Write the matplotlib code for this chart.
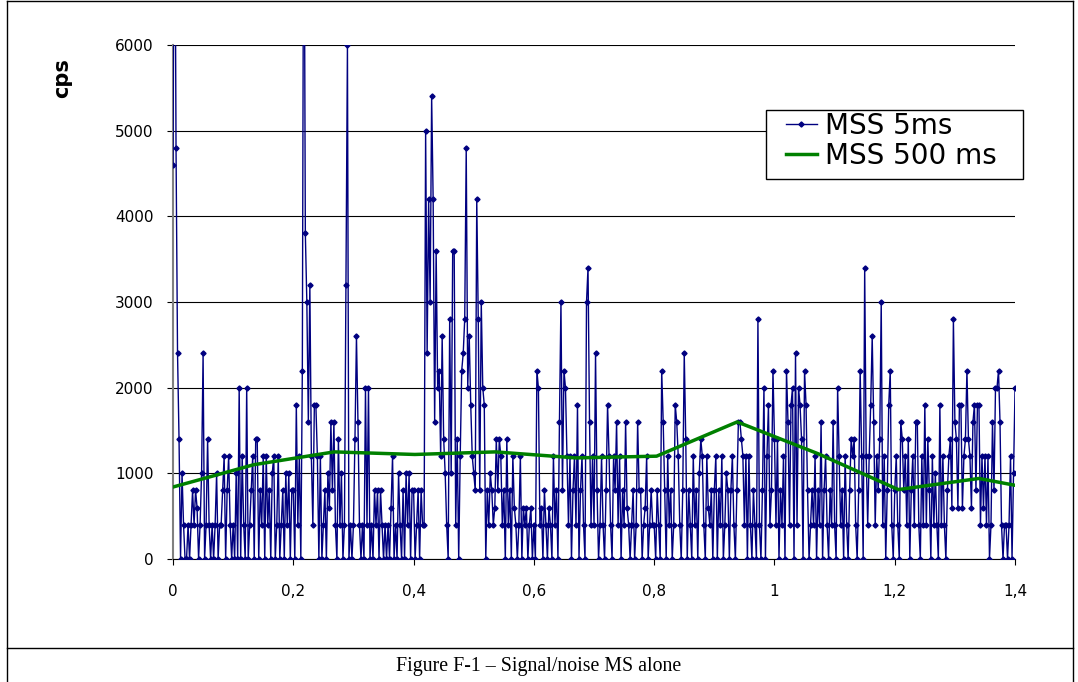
import numpy as np
import matplotlib.pyplot as plt
from matplotlib.lines import Line2D
from matplotlib.patches import Rectangle
from matplotlib.ticker import FuncFormatter

# MSS 5 ms signal (cps), one list per 0.1 of the x axis, sample step 0.0025
sample_step = 0.0025
seg0 = [4600, 9000, 4800, 2400, 1400, 0, 1000, 400, 0, 0,
        400, 0, 400, 800, 400, 800, 600, 0, 400, 1000,
        2400, 0, 400, 1400, 400, 0, 400, 0, 400, 1000,
        0, 400, 400, 800, 1200, 0, 800, 1200, 400, 0]
seg1 = [400, 0, 1000, 0, 2000, 0, 1200, 400, 0, 2000,
        0, 400, 800, 1200, 0, 1400, 1400, 0, 800, 400,
        1200, 0, 1200, 400, 800, 0, 1000, 1200, 0, 400,
        1200, 0, 400, 800, 0, 1000, 400, 1000, 0, 800]
seg2 = [800, 0, 1800, 400, 1200, 0, 2200, 9000, 3800, 3000,
        1600, 3200, 1200, 400, 1800, 1800, 1200, 0, 1200, 0,
        400, 800, 0, 1000, 600, 1600, 800, 1600, 400, 0,
        1400, 400, 1000, 0, 400, 3200, 6000, 0, 400, 0]
seg3 = [400, 1400, 2600, 1600, 400, 0, 400, 0, 2000, 400,
        2000, 0, 400, 0, 800, 400, 800, 0, 800, 400,
        0, 400, 0, 400, 0, 600, 1200, 0, 400, 0,
        1000, 400, 0, 800, 0, 1000, 400, 1000, 0, 800]
seg4 = [800, 0, 400, 800, 0, 800, 400, 400, 5000, 2400,
        4200, 3000, 5400, 4200, 1600, 3600, 2000, 2200, 1200, 2600,
        1400, 1000, 400, 0, 2800, 1000, 3600, 3600, 400, 1400,
        0, 1200, 2200, 2400, 2800, 4800, 2000, 2600, 1800, 1200]
seg5 = [1000, 800, 4200, 2800, 800, 3000, 2000, 1800, 0, 800,
        400, 1000, 800, 400, 600, 1400, 800, 1400, 1200, 400,
        800, 0, 1400, 400, 800, 0, 1200, 600, 400, 0,
        400, 1200, 0, 600, 400, 600, 0, 400, 600, 0]
seg6 = [400, 0, 2200, 2000, 400, 600, 0, 800, 400, 0,
        600, 400, 0, 1200, 400, 800, 0, 1600, 3000, 800,
        2200, 2000, 1200, 400, 1200, 0, 800, 1200, 400, 1800,
        0, 800, 1200, 400, 0, 3000, 3400, 1600, 400, 1200]
seg7 = [400, 2400, 800, 0, 400, 1200, 400, 0, 800, 1800,
        1200, 400, 0, 1200, 800, 1600, 400, 1200, 0, 800,
        400, 1600, 600, 400, 0, 400, 800, 0, 400, 1600,
        800, 800, 0, 400, 600, 1200, 0, 400, 800, 400]
seg8 = [400, 0, 800, 400, 0, 2200, 1600, 800, 0, 1200,
        400, 800, 0, 400, 1800, 1600, 1200, 400, 0, 800,
        2400, 1400, 0, 800, 400, 0, 1200, 400, 800, 0,
        1000, 1400, 1200, 400, 0, 1200, 600, 400, 800, 0]
seg9 = [800, 1200, 0, 800, 400, 1200, 0, 400, 1000, 800,
        0, 800, 1200, 400, 0, 800, 1600, 1600, 1400, 1200,
        400, 1200, 0, 1200, 400, 0, 800, 400, 0, 2800,
        400, 0, 800, 2000, 0, 1200, 1800, 400, 800, 2200]
seg10 = [1400, 400, 1400, 0, 800, 400, 1200, 0, 2200, 1600,
         400, 1800, 2000, 0, 2400, 400, 2000, 1800, 1400, 0,
         2200, 1800, 800, 0, 400, 800, 400, 1200, 0, 800,
         400, 1600, 0, 800, 1200, 400, 0, 800, 400, 1600]
seg11 = [400, 0, 2000, 1200, 400, 800, 0, 1200, 400, 0,
         800, 1400, 1200, 1400, 400, 0, 800, 2200, 1200, 0,
         3400, 1200, 400, 1200, 1800, 2600, 1600, 400, 1200, 800,
         1400, 3000, 400, 1200, 0, 800, 1800, 2200, 400, 0]
seg12 = [800, 1200, 400, 0, 1600, 1400, 800, 1200, 400, 1400,
         0, 800, 1200, 400, 1600, 1600, 400, 0, 1200, 400,
         1800, 400, 1400, 800, 0, 1200, 400, 1000, 400, 0,
         1800, 400, 1200, 400, 0, 800, 1200, 1400, 600, 2800]
seg13 = [1600, 1400, 600, 1800, 1800, 600, 1200, 1400, 2200, 1400,
         1200, 600, 1600, 1800, 800, 1800, 1800, 400, 1200, 600,
         1200, 400, 1200, 0, 400, 1600, 800, 2000, 2000, 2200,
         1600, 400, 0, 400, 400, 0, 400, 1200, 0, 1000, 2000]

# MSS 500 ms
slow_x = [0, 0.134, 0.268, 0.402, 0.536, 0.67, 0.804, 0.938, 1.072, 1.206, 1.34, 1.4]
slow_y = [840, 1100, 1250, 1220, 1250, 1180, 1200, 1600, 1230, 810, 940, 860]

x_ticks = [0, 0.2, 0.4, 0.6, 0.8, 1.0, 1.2, 1.4]
y_ticks = [0, 1000, 2000, 3000, 4000, 5000, 6000]

fast_y = np.array(seg0 + seg1 + seg2 + seg3 + seg4 + seg5 + seg6 + seg7
                  + seg8 + seg9 + seg10 + seg11 + seg12 + seg13)
fast_x = np.arange(len(fast_y)) * sample_step

fig = plt.figure(figsize=(10.78, 6.82), dpi=100)
ax = fig.add_axes([0.1605, 0.1804, 0.7811, 0.7536])

l1, = ax.plot(fast_x, fast_y, color='#000080', lw=1.0, marker='D', ms=2.6,
              label='MSS 5ms', zorder=3)
l2, = ax.plot(slow_x, slow_y, color='#008000', lw=2.5, label='MSS 500 ms', zorder=4)

ax.set_xlim(0, 1.4)
ax.set_ylim(0, 6000)
ax.set_xticks(x_ticks)
ax.set_yticks(y_ticks)

def comma(v, pos):
    s = ('%.1f' % v).rstrip('0').rstrip('.')
    return s.replace('.', ',')

ax.xaxis.set_major_formatter(FuncFormatter(comma))
ax.tick_params(axis='x', direction='out', length=4, pad=14, labelsize=11)
ax.tick_params(axis='y', direction='out', length=4, pad=10, labelsize=11)
ax.yaxis.grid(True, color='black', lw=0.8)
ax.set_axisbelow(True)

for s in ['top', 'right']:
    ax.spines[s].set_visible(False)
ax.spines['left'].set_color('#808080')
ax.spines['left'].set_linewidth(1.5)
ax.spines['bottom'].set_color('black')

fig.text(0.058, 0.885, 'cps', rotation=90, fontsize=15, fontweight='bold',
         ha='center', va='center')

# legend box drawn by hand, entries placed inside it
W, H = 1078, 682
fig.add_artist(Rectangle((766 / W, 1 - 179 / H), 257 / W, 69 / H,
                         transform=fig.transFigure, facecolor='white',
                         edgecolor='black', lw=1.0, zorder=2))
fig.legend([l1, l2], ['MSS 5ms', 'MSS 500 ms'], loc='upper left',
           bbox_to_anchor=(786 / W, 1 - 112 / H), frameon=False, fontsize=20,
           borderpad=0, borderaxespad=0, handlelength=1.1,
           handletextpad=0.32, labelspacing=0.08).set_zorder(5)

# outer frame and caption cell
left, right, top, sep = 7 / W, 1073 / W, 1 - 1 / H, 1 - 648 / H
for xs, ys in [([left, right], [top, top]), ([left, right], [sep, sep]),
               ([left, left], [0, top]), ([right, right], [0, top])]:
    fig.add_artist(Line2D(xs, ys, color='black', lw=1.0, transform=fig.transFigure))

fig.text(0.5, 1 - 667 / H, 'Figure F-1 \u2013 Signal/noise MS alone',
         family='Liberation Serif', fontsize=14.3, ha='center', va='center')

fig.savefig('out.png', dpi=100)
